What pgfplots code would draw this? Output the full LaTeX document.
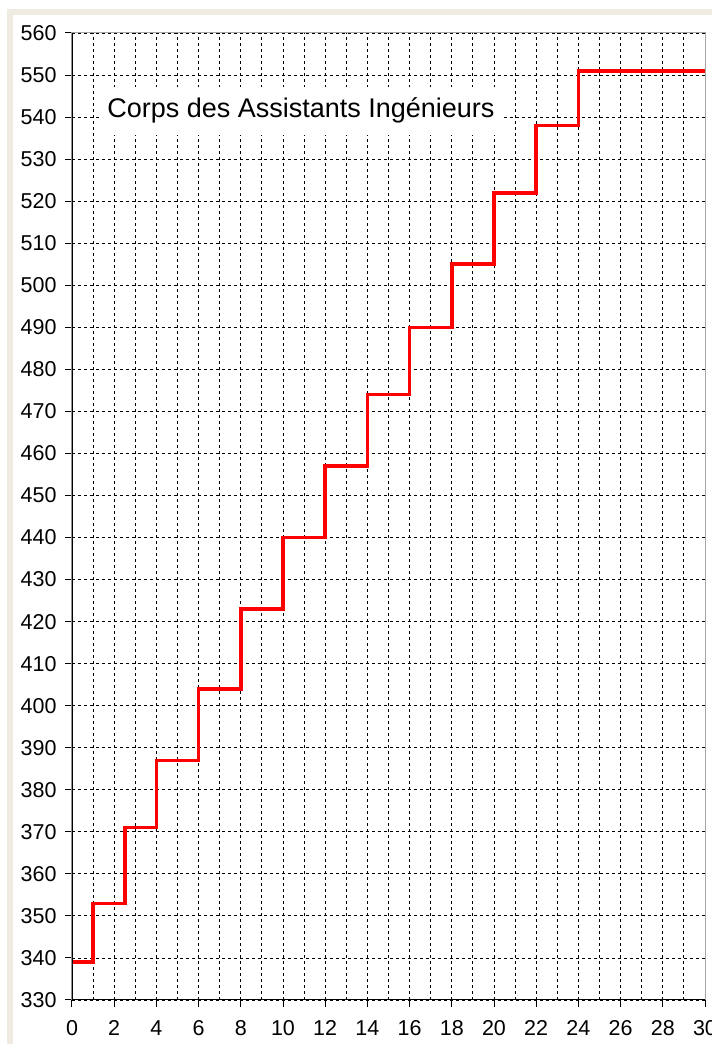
\documentclass[border=0pt]{standalone}
\usepackage{fontspec}
\setmainfont{Liberation Sans}
\usepackage{pgfplots}
\pgfplotsset{compat=1.18}
\definecolor{beige}{RGB}{239,235,224}
\begin{document}
\begin{tikzpicture}
\path[use as bounding box] (0pt,0pt) rectangle (712pt,1044pt);
\fill[white] (0pt,0pt) rectangle (712pt,1044pt);
\fill[beige] (7pt,0pt) rectangle (13pt,1035pt);
\fill[beige] (7pt,1029pt) rectangle (712pt,1035pt);
\begin{scope}
\clip (0pt,0pt) rectangle (712pt,1044pt);
\begin{axis}[at={(72pt,44pt)}, anchor=south west, scale only axis,
  width=633pt, height=967pt,
  xmin=0, xmax=30, ymin=330, ymax=560,
  xtick={0,2,...,30}, ytick={330,340,...,560},
  minor x tick num=1,
  tick pos=left, tick align=outside, major tick length=7pt, minor tick length=0pt,
  xmajorgrids, xminorgrids, ymajorgrids,
  grid style={black, line width=0.9pt, dash pattern=on 3pt off 3pt},
  minor grid style={black, line width=0.9pt, dash pattern=on 3pt off 3pt},
  axis line style={draw=gray!70, line width=1pt},
  tick style={black, line width=1pt},
  ticklabel style={font=\fontsize{21.5}{25}\selectfont},
  /pgf/number format/assume math mode=true,
  yticklabel style={xshift=-5pt},
  xticklabel style={yshift=-10pt},
]
\addplot[const plot, red, line width=3.5pt] coordinates {
(0,339) (1,353) (2.5,371) (4,387) (6,404) (8,423) (10,440) (12,457)
(14,474) (16,490) (18,505) (20,522) (22,538) (24,551) (30,551)};
\node[fill=white, inner sep=0pt, minimum width=402pt, minimum height=48pt,
  font=\fontsize{27}{32}\selectfont] at (axis cs:10.85,541.5) {Corps des Assistants Ingénieurs};
\draw[black, line width=1.3pt] (rel axis cs:0,1) -- (rel axis cs:0,0) -- (rel axis cs:1,0);
\end{axis}
\end{scope}
\end{tikzpicture}
\end{document}
